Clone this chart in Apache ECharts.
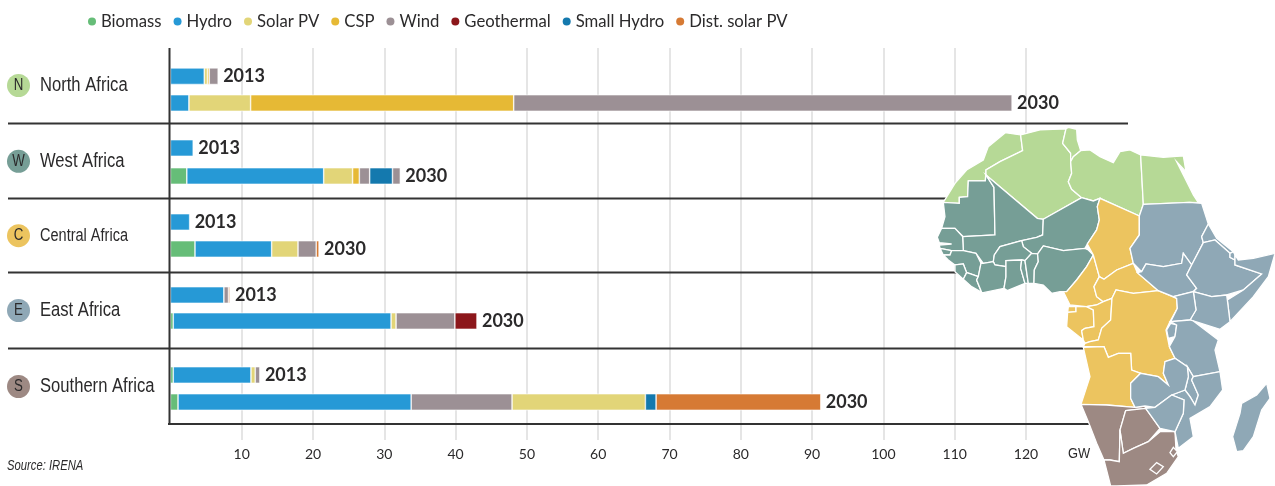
<!DOCTYPE html>
<html>
<head>
<meta charset="utf-8">
<style>
  html, body { margin: 0; padding: 0; background: #fff; }
  #chart { width: 1275px; height: 486px; }
</style>
<script src="https://cdn.jsdelivr.net/npm/echarts@6/dist/echarts.min.js"></script>
</head>
<body>
<div id="chart"></div>
<script>
// data, GW per segment, in drawing order
const sources = ['Biomass', 'Hydro', 'Solar PV', 'CSP', 'Wind', 'Geothermal', 'Small Hydro', 'Dist. solar PV'];
const sourceColors = ['#66bd78', '#2699d6', '#e2d578', '#e6b935', '#9c9095', '#8c171b', '#1479ae', '#d67a34'];
const years = ['2013', '2030'];
const regionNames = ['North Africa', 'West Africa', 'Central Africa', 'East Africa', 'Southern Africa'];
const regionLetters = ['N', 'W', 'C', 'E', 'S'];
const regionColors = ['#b6d996', '#769e96', '#ecc45f', '#8fa8b6', '#9d8983'];
const xTicksMax = 120;

const north2013 = [['Hydro', 4.75], ['Solar PV', 0.45], ['CSP', 0.25], ['Wind', 1.25]];
const north2030 = [['Hydro', 2.6], ['Solar PV', 8.65], ['CSP', 36.9], ['Wind', 69.9]];
const west2013 = [['Hydro', 3.2]];
const west2030 = [['Biomass', 2.3], ['Hydro', 19.2], ['Solar PV', 4.05], ['CSP', 0.95], ['Wind', 1.45], ['Small Hydro', 3.2], ['Wind', 1.1]];
const central2013 = [['Hydro', 2.7]];
const central2030 = [['Biomass', 3.45], ['Hydro', 10.75], ['Solar PV', 3.7], ['Wind', 2.55], ['Dist. solar PV', 0.4]];
const east2013 = [['Hydro', 7.5], ['Wind', 0.65], ['Dist. solar PV', 0.2]];
const east2030 = [['Biomass', 0.4], ['Hydro', 30.55], ['Solar PV', 0.7], ['Wind', 8.25], ['Geothermal', 3.1]];
const south2013 = [['Biomass', 0.4], ['Hydro', 10.9], ['Solar PV', 0.6], ['Wind', 0.65]];
const south2030 = [['Biomass', 1.07], ['Hydro', 32.7], ['Wind', 14.15], ['Solar PV', 18.7], ['Small Hydro', 1.5], ['Dist. solar PV', 23.1]];
const regionBars = [
	[north2013, north2030],
	[west2013, west2030],
	[central2013, central2030],
	[east2013, east2030],
	[south2013, south2030]
];

// layout: each region gets its own little grid, rows are not evenly spaced in the source
const plotLeft = 170.4;
const pxPerGW = 7.13;
const rowTops = [62.8, 134, 208.5, 282, 361.5];
const rowHeights = [53.6, 56, 54, 52, 54];
const labelY = [85.5, 161.3, 235.7, 310.5, 386.5];
const labelSizes = [20, 20, 17.5, 20, 20];
const labelScale = 0.83;
const separatorY = [123.5, 198.5, 272.5, 348.5, 424];
const ink = '#2b2a2b';
const font = 'Lato, "Liberation Sans", sans-serif';
const wideFont = '"Liberation Sans", sans-serif';

// traced outline of the inset map, region index + ring in its own coordinate space
const mapShapes = [
	['Morocco', 0, [[130,247],[165,190],[200,150],[250,120],[265,80],[316,38],[362,45],[368,92],[300,125],[258,150],[256,183],[205,183],[203,230],[178,232],[178,250]]],
	['Algeria', 0, [[362,45],[420,30],[498,27],[488,70],[512,100],[512,125],[515,160],[505,185],[515,208],[545,233],[430,298],[412,295],[258,165],[258,150],[300,125],[368,92]]],
	['Tunisia', 0, [[498,27],[505,22],[530,28],[532,60],[542,92],[520,110],[512,125],[512,100],[488,70]]],
	['Libya', 0, [[542,92],[570,90],[600,110],[640,128],[660,95],[690,90],[722,105],[730,253],[718,288],[600,235],[580,243],[545,233],[515,208],[505,185],[515,160],[512,125],[520,110]]],
	['Egypt', 0, [[722,105],[790,112],[850,108],[858,155],[830,125],[850,165],[880,225],[895,248],[868,247],[730,253]]],
	['Mauritania', 1, [[130,247],[178,250],[178,232],[203,230],[205,183],[256,183],[258,165],[282,202],[285,345],[190,350],[165,325],[125,325],[135,290]]],
	['Mali', 1, [[282,202],[258,165],[412,295],[430,298],[428,345],[410,352],[365,362],[300,380],[283,405],[280,425],[250,430],[228,400],[190,392],[188,350],[285,345]]],
	['Niger', 1, [[430,298],[545,233],[580,243],[600,235],[592,260],[598,300],[590,330],[562,372],[555,385],[490,392],[430,378],[413,402],[395,400],[370,380],[365,362],[410,352],[428,345]]],
	['Burkina Faso', 1, [[300,380],[365,362],[370,380],[395,400],[375,422],[365,420],[318,422],[318,440],[285,435],[280,425],[283,405]]],
	['Senegal', 1, [[112,352],[125,325],[165,325],[188,350],[190,392],[155,392],[120,385],[118,375],[155,372],[118,368]]],
	['Guinea-Bissau', 1, [[120,385],[155,392],[150,405],[130,405]]],
	['Guinea', 1, [[155,392],[190,392],[228,400],[243,430],[235,470],[212,462],[200,458],[190,432],[165,435],[145,420],[130,405],[150,405]]],
	['Sierra Leone', 1, [[165,435],[190,432],[200,458],[190,478],[165,455]]],
	['Liberia', 1, [[190,478],[200,458],[212,462],[235,470],[230,480],[245,517],[215,500]]],
	['Ivory Coast', 1, [[243,430],[250,430],[280,425],[285,435],[318,440],[318,470],[312,505],[250,518],[245,517],[230,480],[235,470]]],
	['Ghana', 1, [[318,422],[365,420],[362,445],[375,490],[322,512],[312,505],[318,470],[318,440]]],
	['Togo', 1, [[365,420],[375,422],[385,490],[375,490],[362,445]]],
	['Benin', 1, [[375,422],[395,400],[413,402],[415,425],[403,450],[402,490],[385,490]]],
	['Nigeria', 1, [[413,402],[430,378],[490,392],[555,385],[565,390],[580,405],[560,440],[530,480],[500,515],[480,515],[455,520],[430,495],[402,490],[403,450],[415,425]]],
	['Cameroon', 2, [[580,405],[598,470],[582,500],[590,530],[610,545],[590,555],[560,560],[510,555],[490,515],[500,515],[530,480],[560,440]]],
	['Chad', 2, [[600,235],[718,288],[718,345],[690,385],[700,430],[650,450],[612,478],[598,470],[580,405],[562,372],[590,330],[598,300],[592,260]]],
	['Central African Republic', 2, [[598,470],[612,478],[650,450],[700,430],[712,458],[775,512],[700,520],[648,510],[636,535],[610,545],[590,530],[582,500]]],
	['Equatorial Guinea', 2, [[505,560],[528,560],[528,575],[503,577]]],
	['Gabon', 2, [[528,575],[528,560],[560,560],[580,570],[582,620],[555,625],[545,632],[550,660],[500,620],[503,577]]],
	['Congo', 2, [[610,545],[636,535],[632,600],[605,625],[595,660],[570,665],[555,670],[550,660],[545,632],[555,625],[582,620],[580,570],[560,560],[590,555]]],
	['DR Congo', 2, [[648,510],[700,520],[775,512],[830,535],[832,565],[810,605],[798,630],[808,680],[825,715],[795,725],[790,760],[805,795],[775,770],[722,760],[695,750],[692,700],[655,700],[625,712],[612,680],[550,680],[555,670],[570,665],[595,660],[605,625],[632,600],[636,535]]],
	['Angola', 2, [[550,682],[612,680],[625,712],[655,700],[692,700],[695,750],[722,760],[692,790],[692,835],[705,862],[620,855],[543,853],[570,770]]],
	['Namibia', 4, [[543,853],[620,855],[705,862],[735,858],[737,865],[677,872],[660,930],[658,1025],[630,1020],[612,1020],[590,970],[565,905]]],
	['Botswana', 4, [[677,872],[737,865],[780,925],[745,965],[700,985],[670,1000],[660,930]]],
	['South Africa', 4, [[660,930],[670,1000],[700,985],[745,965],[780,935],[825,935],[828,990],[835,1010],[800,1060],[740,1095],[650,1098],[632,1098],[612,1020],[630,1020],[658,1025]]],
	['Lesotho', 4, [[750,1048],[770,1028],[790,1040],[770,1062]]],
	['Swaziland', 4, [[810,998],[820,982],[832,995],[820,1010]]],
	['Sudan', 3, [[730,253],[868,247],[905,250],[925,312],[905,350],[910,368],[875,435],[850,400],[845,430],[790,440],[738,432],[725,455],[700,430],[690,385],[718,345],[718,288]]],
	['South Sudan', 3, [[725,455],[738,432],[790,440],[845,430],[850,400],[875,435],[860,465],[890,505],[880,515],[820,530],[775,512],[712,458]]],
	['Eritrea', 3, [[925,312],[950,355],[1000,395],[990,400],[945,360],[910,368],[905,350]]],
	['Ethiopia', 3, [[910,368],[945,360],[990,400],[990,412],[1005,420],[1005,435],[1085,462],[1030,510],[980,525],[935,530],[880,515],[890,505],[860,465],[875,435]]],
	['Djibouti', 3, [[990,400],[1000,395],[1005,405],[1005,420],[990,412]]],
	['Somalia', 3, [[1005,405],[1015,420],[1060,415],[1125,400],[1105,470],[1060,530],[990,605],[982,540],[1030,510],[1085,462],[1005,435],[1005,420]]],
	['Kenya', 3, [[880,515],[935,530],[980,525],[982,540],[990,605],[960,628],[880,603],[870,600],[888,570]]],
	['Uganda', 3, [[820,530],[880,515],[888,570],[870,600],[812,605],[832,565],[830,535]]],
	['Rwanda', 3, [[812,610],[830,615],[825,650],[805,655],[800,630]]],
	['Tanzania', 3, [[812,605],[870,600],[880,603],[955,660],[945,690],[960,755],[880,770],[862,740],[825,715],[808,680],[825,650],[830,615]]],
	['Malawi', 3, [[862,740],[880,770],[875,780],[895,825],[885,855],[870,830],[855,810],[865,770]]],
	['Mozambique', 3, [[960,755],[968,810],[930,860],[870,895],[880,950],[835,985],[825,935],[850,880],[852,840],[815,825],[855,810],[870,830],[885,855],[895,825],[875,780],[880,770]]],
	['Zambia', 3, [[795,725],[825,715],[862,740],[865,770],[855,810],[815,825],[765,862],[735,858],[705,862],[692,835],[692,790],[722,760],[775,770],[805,795],[790,760]]],
	['Zimbabwe', 3, [[737,865],[765,862],[815,825],[852,840],[850,880],[825,935],[780,925]]],
	['Madagascar', 3, [[1100,790],[1110,835],[1085,870],[1060,950],[1030,992],[1010,995],[998,950],[1020,880],[1025,850],[1070,825]]]
];

const africaGeo = {
	type: 'FeatureCollection',
	features: mapShapes.map(function(s) {
		const ring = s[2].concat([s[2][0]]);
		return {
			type: 'Feature',
			properties: { name: s[0] },
			geometry: { type: 'Polygon', coordinates: [ring] }
		};
	})
};
echarts.registerMap('africa', africaGeo);

// grid 0 only carries the shared ticks and gridlines
const grids = [{ left: plotLeft, top: 48, width: xTicksMax * pxPerGW, height: 392 }];
const xAxes = [{
	type: 'value',
	gridIndex: 0,
	min: 0,
	max: xTicksMax,
	interval: 10,
	axisLine: { show: false },
	axisTick: { show: false },
	axisLabel: { showMinLabel: false, margin: 7, color: ink, fontFamily: font, fontSize: 14 },
	splitLine: { show: true, showMinLine: false, lineStyle: { color: '#dcdcdc', width: 1.5 } }
}];
const yAxes = [{ type: 'value', gridIndex: 0, show: false }];
const series = [];

regionBars.forEach(function(bars, r) {
	const idx = r + 1;
	grids.push({ left: plotLeft, top: rowTops[r], width: xTicksMax * pxPerGW, height: rowHeights[r] });
	xAxes.push({ type: 'value', gridIndex: idx, min: 0, max: xTicksMax, show: false, splitLine: { show: false } });
	yAxes.push({ type: 'category', gridIndex: idx, inverse: true, data: years, show: false });
	bars.forEach(function(segments, b) {
		segments.forEach(function(seg, s) {
			const isLast = s === segments.length - 1;
			series.push({
				type: 'bar',
				name: seg[0],
				xAxisIndex: idx,
				yAxisIndex: idx,
				stack: 'region' + r,
				barWidth: 16.6,
				silent: true,
				data: b === 0 ? [seg[1], '-'] : ['-', seg[1]],
				itemStyle: { color: sourceColors[sources.indexOf(seg[0])], borderColor: '#fff', borderWidth: 0.6 },
				label: {
					show: isLast,
					position: 'right',
					distance: 5,
					formatter: years[b],
					color: ink,
					fontFamily: font,
					fontWeight: 'bold',
					fontSize: 18
				}
			});
		});
	});
});

const graphics = [];
separatorY.forEach(function(y, i) {
	const isAxis = i === separatorY.length - 1;
	graphics.push({
		type: 'line',
		z: 1,
		shape: { x1: isAxis ? 168 : 8, y1: y, x2: 1128, y2: y },
		style: { stroke: '#333', lineWidth: 2 }
	});
});
graphics.push({
	type: 'line',
	z: 3,
	shape: { x1: 169.5, y1: 48, x2: 169.5, y2: 425 },
	style: { stroke: '#333', lineWidth: 2 }
});
regionNames.forEach(function(name, r) {
	graphics.push({
		type: 'circle',
		z: 3,
		shape: { cx: 18.5, cy: labelY[r], r: 11.5 },
		style: { fill: regionColors[r] }
	});
	graphics.push({
		type: 'text',
		z: 4,
		x: 18.5,
		scaleX: labelScale,
		style: {
			x: 0, y: labelY[r], text: regionLetters[r], align: 'center', verticalAlign: 'middle',
			fill: ink, font: '16px ' + wideFont
		}
	});
	graphics.push({
		type: 'text',
		z: 4,
		x: 40,
		scaleX: labelScale,
		style: {
			x: 0, y: labelY[r], text: name, verticalAlign: 'middle',
			fill: ink, font: labelSizes[r] + 'px ' + wideFont
		}
	});
});
graphics.push({
	type: 'text',
	z: 4,
	x: 1079,
	scaleX: labelScale,
	style: { x: 0, y: 454, text: 'GW', align: 'center', verticalAlign: 'middle', fill: ink, font: '15.5px ' + wideFont }
});
graphics.push({
	type: 'text',
	z: 4,
	x: 7,
	scaleX: 0.75,
	style: { x: 0, y: 466, text: 'Source: IRENA', verticalAlign: 'middle', fill: ink, font: 'italic 15px ' + wideFont }
});

const chart = echarts.init(document.getElementById('chart'), null, { renderer: 'canvas' });
chart.setOption({
	animation: false,
	backgroundColor: '#fff',
	legend: {
		left: 88,
		top: 13,
		padding: 0,
		itemWidth: 8,
		itemHeight: 8,
		itemGap: 12,
		icon: 'circle',
		selectedMode: false,
		itemStyle: { borderWidth: 0 },
		textStyle: { color: ink, fontFamily: font, fontSize: 16.7 },
		data: sources
	},
	grid: grids,
	xAxis: xAxes,
	yAxis: yAxes,
	geo: {
		map: 'africa',
		z: 5,
		silent: true,
		roam: false,
		aspectScale: 1,
		projection: {
			project: function(p) { return p; },
			unproject: function(p) { return p; }
		},
		left: 937.3,
		top: 127.3,
		width: 337.7,
		height: 358.7,
		label: { show: false },
		itemStyle: { borderColor: '#fff', borderWidth: 1.3, areaColor: '#8fa8b6' },
		regions: mapShapes.map(function(s) {
			return { name: s[0], itemStyle: { areaColor: regionColors[s[1]] } };
		})
	},
	graphic: graphics,
	series: series
});
</script>
</body>
</html>
